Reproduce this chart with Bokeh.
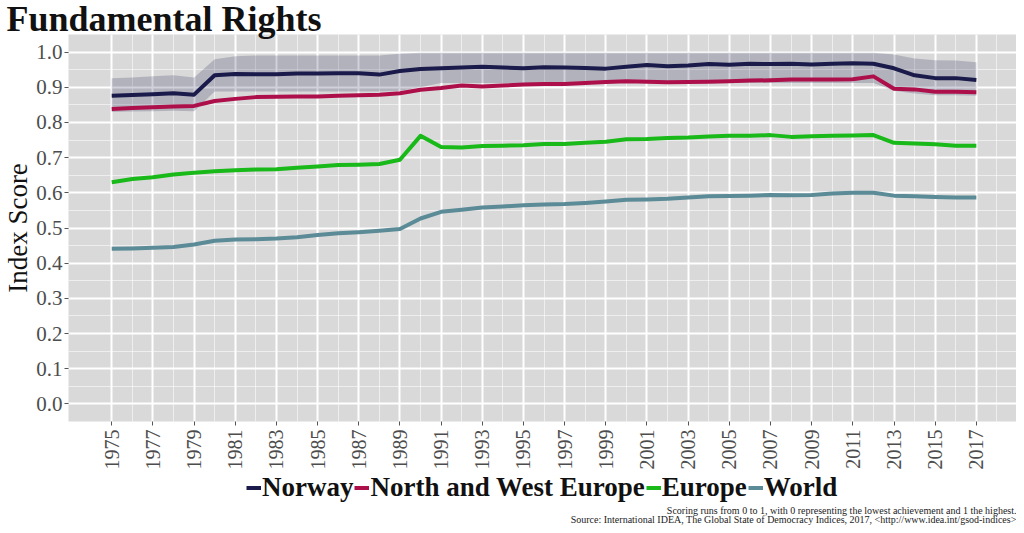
from bokeh.plotting import figure
from bokeh.layouts import column
from bokeh.models import (FixedTicker, Legend, LegendItem, Label, Range1d,
                          NumeralTickFormatter, ColumnDataSource)
from bokeh.embed import file_html
from bokeh.resources import INLINE

years = list(range(1975, 2018))

norway = [0.876, 0.878, 0.880, 0.883, 0.879, 0.934, 0.938, 0.937, 0.937, 0.939,
          0.939, 0.940, 0.940, 0.936, 0.946, 0.952, 0.954, 0.956, 0.958, 0.956,
          0.954, 0.957, 0.956, 0.955, 0.953, 0.958, 0.963, 0.960, 0.962, 0.966,
          0.964, 0.967, 0.966, 0.967, 0.965, 0.967, 0.968, 0.967, 0.954, 0.934,
          0.926, 0.926, 0.921]
norway_lower = [0.830, 0.831, 0.832, 0.833, 0.832, 0.888, 0.888, 0.888, 0.888, 0.888,
                0.888, 0.888, 0.888, 0.888, 0.890, 0.900, 0.912, 0.912, 0.912, 0.912,
                0.912, 0.912, 0.912, 0.912, 0.912, 0.912, 0.912, 0.912, 0.912, 0.912,
                0.912, 0.912, 0.912, 0.912, 0.912, 0.912, 0.912, 0.912, 0.890, 0.882,
                0.877, 0.877, 0.876]
norway_upper = [0.926, 0.928, 0.931, 0.934, 0.928, 0.980, 0.988, 0.990, 0.990, 0.990,
                0.990, 0.990, 0.990, 0.990, 0.995, 0.998, 0.998, 0.998, 0.998, 0.998,
                0.998, 0.998, 0.998, 0.998, 0.998, 0.998, 0.998, 0.998, 0.998, 0.998,
                0.998, 0.998, 0.998, 0.998, 0.998, 0.998, 0.998, 0.998, 0.993, 0.982,
                0.977, 0.976, 0.971]
nw_europe = [0.838, 0.841, 0.843, 0.845, 0.847, 0.861, 0.867, 0.872, 0.873, 0.874,
             0.874, 0.876, 0.877, 0.879, 0.883, 0.893, 0.898, 0.905, 0.902, 0.905,
             0.908, 0.909, 0.909, 0.912, 0.915, 0.917, 0.916, 0.914, 0.915, 0.916,
             0.917, 0.919, 0.920, 0.922, 0.922, 0.922, 0.923, 0.931, 0.896, 0.894,
             0.887, 0.887, 0.886]
europe = [0.630, 0.639, 0.644, 0.652, 0.657, 0.661, 0.664, 0.666, 0.667, 0.671,
          0.675, 0.679, 0.680, 0.682, 0.694, 0.762, 0.730, 0.729, 0.733, 0.734,
          0.735, 0.739, 0.739, 0.742, 0.745, 0.752, 0.753, 0.756, 0.757, 0.760,
          0.762, 0.762, 0.764, 0.759, 0.761, 0.762, 0.763, 0.764, 0.742, 0.740,
          0.738, 0.734, 0.734]
world = [0.441, 0.442, 0.444, 0.446, 0.453, 0.464, 0.467, 0.468, 0.470, 0.474,
         0.480, 0.485, 0.488, 0.492, 0.497, 0.527, 0.546, 0.552, 0.558, 0.561,
         0.565, 0.567, 0.568, 0.571, 0.575, 0.580, 0.581, 0.583, 0.587, 0.590,
         0.591, 0.592, 0.594, 0.593, 0.594, 0.598, 0.600, 0.600, 0.592, 0.590,
         0.588, 0.587, 0.587]

series_names = ["Norway", "North and West Europe", "Europe", "World"]
series_colors = ["#1a1a4b", "#ad0f4a", "#19b919", "#5b8b97"]
x_ticks = list(range(1975, 2018, 2))
x_minor = list(range(1976, 2019, 2))
y_ticks = [0.0, 0.1, 0.2, 0.3, 0.4, 0.5, 0.6, 0.7, 0.8, 0.9, 1.0]
y_minor = [0.05, 0.15, 0.25, 0.35, 0.45, 0.55, 0.65, 0.75, 0.85, 0.95]

title_text = "Fundamental Rights"
note1 = "Scoring runs from 0 to 1, with 0 representing the lowest achievement and 1 the highest."
note2 = "Source: International IDEA, The Global State of Democracy Indices, 2017, <http://www.idea.int/gsod-indices>"

SERIF = "Liberation Serif"
W = 1016          # requested width (rendered 8px narrower)
XW = 1008         # strip coordinate width

p = figure(width=W, height=472, output_backend="svg", toolbar_location=None,
           x_range=Range1d(1972.9, 2018.95), y_range=Range1d(-0.05, 1.05),
           min_border_left=64, min_border_right=0, min_border_top=0, min_border_bottom=49)

p.title.text = title_text
p.title.text_font = SERIF
p.title.text_font_size = "36px"
p.title.text_font_style = "bold"
p.title.text_color = "#111111"
p.title.align = "left"
p.title.offset = -62
p.title.standoff = -8

p.border_fill_color = "#ffffff"
p.outline_line_color = None
p.background_fill_color = "#d9d9d9"

# grids
p.xgrid.ticker = FixedTicker(ticks=x_ticks, minor_ticks=x_minor)
p.ygrid.ticker = FixedTicker(ticks=y_ticks, minor_ticks=y_minor)
for g in (p.xgrid, p.ygrid):
    g.grid_line_color = "#ffffff"
    g.grid_line_width = 2
    g.minor_grid_line_color = "#ffffff"
    g.minor_grid_line_width = 1
    g.minor_grid_line_alpha = 0.55

# axes
p.xaxis.ticker = FixedTicker(ticks=x_ticks)
p.yaxis.ticker = FixedTicker(ticks=y_ticks)
p.yaxis.formatter = NumeralTickFormatter(format="0.0")
for ax in (p.xaxis, p.yaxis):
    ax.axis_line_color = None
    ax.major_tick_line_color = "#555555"
    ax.major_tick_line_width = 1
    ax.major_tick_out = 4
    ax.major_tick_in = 0
    ax.minor_tick_line_color = None
    ax.major_label_text_font = SERIF
    ax.major_label_text_font_size = "21px"
    ax.major_label_text_color = "#4d4d4d"
    ax.major_label_standoff = 2
p.xaxis.major_label_orientation = 1.5708
p.xaxis.major_label_text_font_size = "20px"
p.xaxis.major_label_standoff = 4
p.yaxis.axis_label = "Index Score"
p.yaxis.axis_label_text_font = SERIF
p.yaxis.axis_label_text_font_size = "27px"
p.yaxis.axis_label_text_font_style = "normal"
p.yaxis.axis_label_text_color = "#111111"
p.yaxis.axis_label_standoff = 0

src = ColumnDataSource(dict(year=years, norway=norway, lo=norway_lower, hi=norway_upper,
                            nwe=nw_europe, europe=europe, world=world))

p.varea(x="year", y1="lo", y2="hi", source=src, fill_color="#1a1a4b", fill_alpha=0.2)

for col, color in zip(["norway", "nwe", "europe", "world"], series_colors):
    p.line(x="year", y=col, source=src, line_color=color, line_width=4,
           line_join="round")


def strip(h):
    f = figure(width=W, height=h, output_backend="svg", toolbar_location=None,
               title=None, x_range=Range1d(0, XW), y_range=Range1d(0, h),
               x_axis_type=None, y_axis_type=None,
               min_border_left=0, min_border_right=0, min_border_top=0, min_border_bottom=0)
    f.grid.visible = False
    f.outline_line_color = None
    f.background_fill_color = "#ffffff"
    f.border_fill_color = "#ffffff"
    return f


# ---- legend strip ----
pl = strip(30)
dummy = []
for color in series_colors:
    dummy.append(pl.line(x=[-20, -10], y=[-20, -20], line_color=color, line_width=4))

legend = Legend(items=[LegendItem(label=n, renderers=[r]) for n, r in zip(series_names, dummy)],
                orientation="horizontal", location="left",
                label_text_font=SERIF, label_text_font_size="27px",
                label_text_font_style="bold", label_text_color="#111111",
                glyph_width=15, glyph_height=20, label_standoff=1, spacing=1,
                padding=0, margin=178, border_line_color=None,
                background_fill_alpha=0)
pl.add_layout(legend, "center")

# ---- notes strip ----
pn = strip(23)
pn.add_layout(Label(x=XW, y=15, text=note1, text_align="right",
                    text_font=SERIF, text_font_size="10px", text_color="#222222",
                    text_baseline="middle"))
pn.add_layout(Label(x=XW, y=6, text=note2, text_align="right",
                    text_font=SERIF, text_font_size="10px", text_color="#222222",
                    text_baseline="middle"))

layout = column(p, pl, pn, spacing=0)
open("out.html", "w").write(file_html(layout, INLINE))
